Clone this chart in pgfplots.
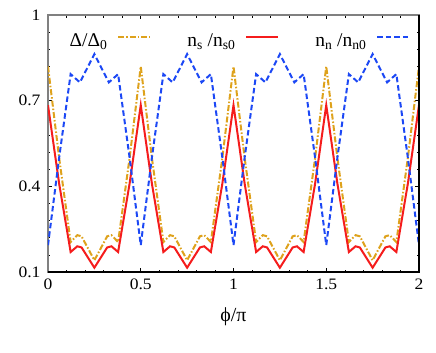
\documentclass[border=0pt]{standalone}
\usepackage{fontspec}
\setmainfont{Liberation Serif}
\newfontfamily\tickf{Liberation Serif}[FakeStretch=1.1]
\usepackage{pgfplots}
\pgfplotsset{compat=1.18}

\definecolor{cgap}{RGB}{222,162,28}
\definecolor{cns}{RGB}{245,28,28}
\definecolor{cnn}{RGB}{28,72,245}

\begin{document}
\begin{tikzpicture}
\useasboundingbox (-48bp,-81bp) rectangle (388bp,272bp);
\begin{axis}[
    scale only axis,
    width=371bp, height=257bp,
    xmin=0, xmax=2, ymin=0.1, ymax=1,
    xtick={0,0.5,1,1.5,2},
    ytick={0.1,0.4,0.7,1},
    minor x tick num=4,
    minor y tick num=4,
    tick align=inside,
    major tick length=4bp, minor tick length=2.5bp,
    tick style={black, line width=0.6pt},
    axis line style={gray, line width=1.5pt},
    /pgf/number format/assume math mode=true,
    tick label style={font=\tickf\fontsize{16}{18}\selectfont},
    xticklabel style={yshift=-3bp},
    yticklabel style={xshift=-4bp},
    xticklabels={0,0.5,1,1.5,2},
    yticklabels={0.1,0.4,0.7,1},
    xlabel={\fontsize{20}{22}\selectfont ϕ/π},
    xlabel style={yshift=-11bp},
    legend columns=3,
    legend plot pos=right,
    legend style={at={(0.515,0.945)}, anchor=north, draw=none, fill=none,
        font=\fontsize{19.5}{21}\selectfont,
        /tikz/every odd column/.append style={column sep=8bp},
        /tikz/every even column/.append style={column sep=34bp}},
    legend image code/.code={\draw[#1] (0bp,3bp) -- (32bp,3bp);},
    after end axis/.code={\draw[black, line width=1.5pt] (rel axis cs:0,0) -- (rel axis cs:1,0) -- (rel axis cs:1,1);},
]
\addplot[cgap, line width=2bp, dash pattern=on 6bp off 2bp on 1.5bp off 2bp] coordinates {
(0,0.82) (0.06,0.50) (0.122,0.205) (0.158,0.229) (0.181,0.225) (0.25,0.141) (0.319,0.225) (0.342,0.229) (0.378,0.205) (0.44,0.50)
(0.5,0.82) (0.56,0.50) (0.622,0.205) (0.658,0.229) (0.681,0.225) (0.75,0.141) (0.819,0.225) (0.842,0.229) (0.878,0.205) (0.94,0.50)
(1.0,0.82) (1.06,0.50) (1.122,0.205) (1.158,0.229) (1.181,0.225) (1.25,0.141) (1.319,0.225) (1.342,0.229) (1.378,0.205) (1.44,0.50)
(1.5,0.82) (1.56,0.50) (1.622,0.205) (1.658,0.229) (1.681,0.225) (1.75,0.141) (1.819,0.225) (1.842,0.229) (1.878,0.205) (1.94,0.50)
(2.0,0.82)
};
\addlegendentry{Δ/Δ\textsubscript{0}}
\addplot[cns, line width=2bp] coordinates {
(0,0.684) (0.06,0.41) (0.122,0.170) (0.158,0.19) (0.181,0.186) (0.25,0.115) (0.319,0.186) (0.342,0.19) (0.378,0.170) (0.44,0.41)
(0.5,0.684) (0.56,0.41) (0.622,0.170) (0.658,0.19) (0.681,0.186) (0.75,0.115) (0.819,0.186) (0.842,0.19) (0.878,0.170) (0.94,0.41)
(1.0,0.684) (1.06,0.41) (1.122,0.170) (1.158,0.19) (1.181,0.186) (1.25,0.115) (1.319,0.186) (1.342,0.19) (1.378,0.170) (1.44,0.41)
(1.5,0.684) (1.56,0.41) (1.622,0.170) (1.658,0.19) (1.681,0.186) (1.75,0.115) (1.819,0.186) (1.842,0.19) (1.878,0.170) (1.94,0.41)
(2.0,0.684)
};
\addlegendentry{n\textsubscript{s} /n\textsubscript{s0}}
\addplot[cnn, line width=2bp, dash pattern=on 5.5bp off 3bp] coordinates {
(0,0.194) (0.06,0.50) (0.122,0.793) (0.172,0.764) (0.25,0.863) (0.328,0.764) (0.378,0.793) (0.44,0.50)
(0.5,0.194) (0.56,0.50) (0.622,0.793) (0.672,0.764) (0.75,0.863) (0.828,0.764) (0.878,0.793) (0.94,0.50)
(1.0,0.194) (1.06,0.50) (1.122,0.793) (1.172,0.764) (1.25,0.863) (1.328,0.764) (1.378,0.793) (1.44,0.50)
(1.5,0.194) (1.56,0.50) (1.622,0.793) (1.672,0.764) (1.75,0.863) (1.828,0.764) (1.878,0.793) (1.94,0.50)
(2.0,0.194)
};
\addlegendentry{n\textsubscript{n} /n\textsubscript{n0}}
\end{axis}
\end{tikzpicture}
\end{document}
